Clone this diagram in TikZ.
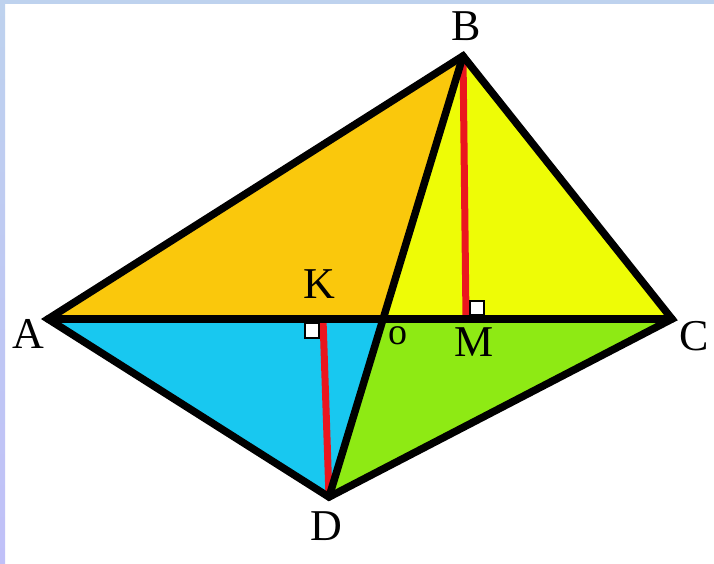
\documentclass[tikz,border=0pt]{standalone}
\usepackage{fontspec}
\setmainfont{Liberation Serif}
\usetikzlibrary{calc}

\definecolor{faceABO}{RGB}{250,200,12}
\definecolor{faceBOC}{RGB}{238,252,6}
\definecolor{faceAOD}{RGB}{24,200,240}
\definecolor{faceDOC}{RGB}{142,234,20}
\definecolor{heightred}{RGB}{234,22,30}
\definecolor{frametop}{RGB}{190,210,238}
\definecolor{frameleft}{RGB}{192,192,248}

\begin{document}
\begin{tikzpicture}[x=1pt, y=-1pt,
    edge/.style={line width=7.5pt, line join=miter, line cap=round},
    height/.style={draw=heightred, line width=7pt},
    rightmark/.style={draw, fill=white, line width=2.5pt},
    lbl/.style={font=\fontsize{44}{44}\selectfont, inner sep=0pt}
]

% Frame
\useasboundingbox (0,0) rectangle (714,563);
\fill[white] (0,0) rectangle (714,563);
\fill[frametop] (0,0) rectangle (714,4);
\shade[top color=frametop, bottom color=frameleft] (0,0) rectangle (5,563);

% Vertices
\coordinate (A) at (48,319);
\coordinate (B) at (463,56);
\coordinate (C) at (672,319);
\coordinate (D) at (329,497);
\coordinate (O) at (intersection of A--C and B--D);
\coordinate (M) at (466,319);
\coordinate (K) at (323,319);

% Faces
\fill[faceABO] (A) -- (B) -- (O) -- cycle;
\fill[faceBOC] (B) -- (C) -- (O) -- cycle;
\fill[faceAOD] (A) -- (O) -- (D) -- cycle;
\fill[faceDOC] (O) -- (C) -- (D) -- cycle;

% Heights
\draw[height] (B) -- (M);
\draw[height] (K) -- (D);
\draw[rightmark] ($(M)+(4,-4)$) rectangle ++(14,-14);
\draw[rightmark] ($(K)+(-4,4)$) rectangle ++(-14,15);

% Edges
\draw[edge] (A) -- (B) -- (C) -- (D) -- cycle;
\draw[edge] (A) -- (C);
\draw[edge] (B) -- (D);

% Labels
\node[lbl] (labA) at (28,334) {A};
\node[lbl] (labB) at (466,26) {B};
\node[lbl] (labC) at (694,336) {C};
\node[lbl] (labD) at (326,526) {D};
\node[lbl] (labK) at (319,284) {K};
\node[lbl] (labM) at (474,342) {M};
\node[lbl, font=\fontsize{38}{38}\selectfont] (labO) at (398,336) {o};

\end{tikzpicture}
\end{document}
